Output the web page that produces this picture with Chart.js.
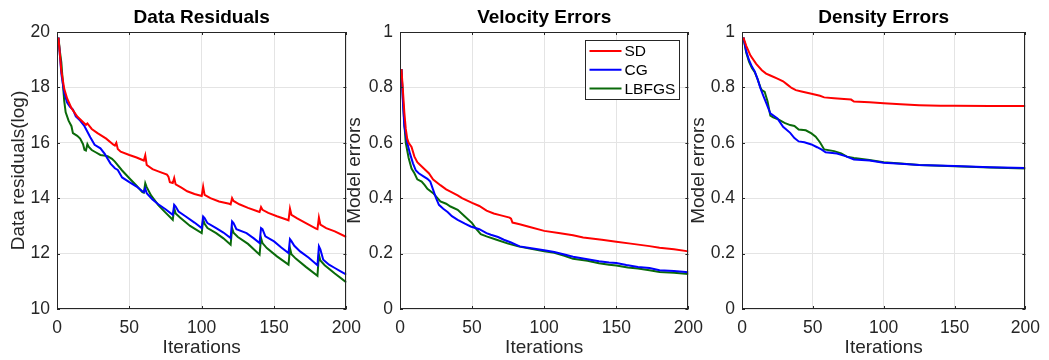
<!DOCTYPE html>
<html>
<head>
<meta charset="utf-8">
<script src="https://cdn.jsdelivr.net/npm/chart.js@4.4.1/dist/chart.umd.min.js"></script>
<style>
  html, body { margin: 0; padding: 0; background: #fff; overflow: hidden; }
  #wrap { position: relative; width: 1049px; height: 360px; }
  #wrap canvas { position: absolute; top: 0; }
</style>
</head>
<body>
<div id="wrap">
  <canvas id="resChart" width="370" height="360" style="left:0px"></canvas>
  <canvas id="velChart" width="370" height="360" style="left:342px"></canvas>
  <canvas id="denChart" width="363" height="360" style="left:686px"></canvas>
</div>
<script>
// iteration ticks and y ticks
const iterTicks = [0, 50, 100, 150, 200]
const resTicks = [10, 12, 14, 16, 18, 20]
const errTicks = [0, 0.2, 0.4, 0.6, 0.8, 1]
const methods = ["SD", "CG", "LBFGS"]

// data residuals (log), [iteration, value]
const resSD = [[1,19.8],[3,18.6],[5,17.95],[7,17.6],[10,17.25],[14,16.95],[19,16.7],[20,16.65],[21,16.7],[24,16.5],[28,16.35],[34,16.15],[39,15.93],[40,15.9],[41,16.0],[42,15.78],[44,15.68],[50,15.56],[55,15.47],[60,15.36],[61,15.55],[62,15.2],[66,15.05],[70,14.97],[76,14.85],[77,14.78],[78,14.58],[80,14.55],[81,14.73],[82,14.5],[86,14.38],[90,14.25],[95,14.15],[100,14.08],[101,14.42],[102,14.12],[106,14.0],[112,13.88],[119,13.8],[120,13.78],[121,14.0],[122,13.9],[126,13.78],[132,13.65],[139,13.52],[140,13.5],[141,13.68],[142,13.58],[146,13.47],[152,13.35],[159,13.22],[160,13.2],[161,13.62],[162,13.4],[166,13.27],[172,13.1],[179,12.9],[180,12.88],[181,13.3],[182,13.05],[186,12.92],[192,12.8],[200,12.6]]
const resCG = [[1,19.8],[3,18.5],[5,17.8],[7,17.45],[9,17.3],[11,17.2],[13,16.95],[16,16.8],[19,16.6],[21,16.4],[23,16.2],[26,15.93],[30,15.8],[33,15.6],[37,15.25],[40,15.08],[42,15.02],[45,14.75],[50,14.58],[55,14.42],[59,14.25],[60,14.22],[61,14.35],[62,14.18],[66,13.95],[70,13.78],[75,13.6],[80,13.4],[81,13.76],[82,13.7],[84,13.52],[89,13.34],[95,13.12],[100,12.92],[101,13.34],[102,13.28],[104,13.1],[110,12.92],[115,12.76],[120,12.56],[121,13.16],[122,13.1],[124,12.88],[131,12.74],[136,12.55],[140,12.38],[141,12.92],[142,12.88],[144,12.62],[150,12.44],[155,12.22],[160,12.02],[161,12.52],[162,12.45],[164,12.28],[168,12.08],[174,11.85],[180,11.58],[181,12.26],[182,12.15],[184,11.78],[188,11.6],[192,11.48],[196,11.36],[200,11.24]]
const resLBFGS = [[1,19.8],[2,19.3],[3,18.9],[4,18.2],[5,17.5],[6,17.1],[8,16.8],[10,16.6],[11,16.35],[14,16.25],[16,16.15],[18,15.95],[19,15.75],[20,15.72],[21,15.95],[22,15.85],[24,15.74],[27,15.65],[30,15.56],[35,15.52],[38,15.42],[40,15.32],[45,15.0],[50,14.72],[55,14.45],[59,14.22],[60,14.2],[61,14.54],[62,14.4],[65,14.1],[70,13.75],[75,13.48],[80,13.22],[81,13.64],[82,13.45],[85,13.3],[92,13.0],[100,12.74],[101,13.22],[102,13.08],[104,12.92],[110,12.74],[115,12.55],[120,12.32],[121,12.92],[122,12.75],[125,12.6],[132,12.35],[140,11.96],[141,12.56],[142,12.38],[145,12.2],[152,11.9],[160,11.6],[161,12.2],[162,11.98],[165,11.82],[172,11.52],[180,11.2],[181,11.96],[182,11.75],[185,11.58],[192,11.28],[200,10.96]]

// velocity model errors
const velSD = [[1,0.866],[2,0.79],[3,0.71],[4,0.65],[5,0.615],[6,0.6],[8,0.585],[10,0.55],[12,0.53],[14,0.52],[18,0.5],[20,0.49],[23,0.467],[28,0.447],[32,0.432],[35,0.424],[40,0.41],[43,0.4],[50,0.383],[55,0.372],[60,0.355],[65,0.345],[70,0.338],[76,0.33],[77,0.326],[78,0.312],[83,0.306],[90,0.296],[100,0.282],[110,0.274],[120,0.266],[127,0.258],[140,0.25],[150,0.243],[160,0.236],[173,0.227],[180,0.221],[190,0.216],[200,0.208]]
const velCG = [[1,0.866],[2,0.75],[3,0.66],[5,0.6],[7,0.56],[9,0.526],[11,0.5],[13,0.49],[16,0.48],[19,0.47],[21,0.46],[23,0.43],[25,0.4],[27,0.376],[30,0.362],[33,0.35],[36,0.335],[40,0.322],[45,0.308],[49,0.298],[55,0.288],[60,0.274],[63,0.268],[68,0.26],[72,0.25],[77,0.24],[83,0.226],[90,0.22],[100,0.212],[107,0.206],[114,0.197],[120,0.189],[130,0.18],[138,0.172],[145,0.168],[150,0.166],[157,0.159],[165,0.152],[173,0.148],[180,0.14],[190,0.137],[200,0.133]]
const velLBFGS = [[1,0.866],[2,0.76],[3,0.67],[4,0.6],[6,0.545],[8,0.507],[10,0.49],[12,0.468],[15,0.46],[17,0.448],[19,0.434],[23,0.418],[26,0.4],[28,0.388],[32,0.38],[35,0.37],[40,0.358],[45,0.334],[50,0.31],[53,0.288],[56,0.27],[60,0.262],[67,0.25],[75,0.236],[82,0.226],[90,0.218],[100,0.208],[107,0.203],[114,0.192],[120,0.181],[130,0.174],[138,0.165],[145,0.16],[150,0.157],[158,0.15],[165,0.146],[173,0.14],[180,0.134],[190,0.131],[200,0.126]]

// density model errors
const denSD = [[1,0.98],[3,0.95],[6,0.915],[10,0.885],[14,0.862],[17,0.85],[20,0.843],[25,0.832],[29,0.822],[32,0.81],[35,0.798],[38,0.79],[42,0.785],[49,0.777],[55,0.77],[58,0.764],[65,0.761],[72,0.758],[77,0.756],[79,0.749],[90,0.746],[100,0.743],[112,0.739],[125,0.736],[140,0.734],[150,0.734],[175,0.733],[200,0.733]]
const denCG = [[1,0.98],[3,0.93],[5,0.898],[7,0.875],[9,0.858],[11,0.83],[13,0.797],[15,0.77],[17,0.745],[20,0.706],[25,0.688],[29,0.658],[34,0.636],[37,0.617],[40,0.605],[44,0.602],[49,0.594],[53,0.584],[56,0.576],[59,0.566],[67,0.561],[73,0.552],[79,0.54],[90,0.536],[100,0.528],[112,0.524],[125,0.52],[150,0.516],[175,0.512],[200,0.509]]
const denLBFGS = [[1,0.98],[3,0.925],[5,0.892],[7,0.87],[9,0.855],[11,0.83],[13,0.8],[14,0.79],[16,0.784],[18,0.75],[20,0.698],[22,0.692],[25,0.686],[30,0.672],[34,0.664],[37,0.661],[40,0.648],[45,0.645],[49,0.634],[52,0.622],[55,0.602],[58,0.576],[65,0.57],[70,0.562],[74,0.55],[79,0.545],[90,0.538],[100,0.53],[112,0.525],[125,0.52],[150,0.515],[175,0.511],[200,0.507]]

const lineColors = ["#ff0000", "#0000ff", "#0a6a0a"]
const fontFamily = "'Liberation Sans', Arial, Helvetica, sans-serif"

Chart.defaults.font.family = fontFamily
Chart.defaults.color = "#262626"
Chart.defaults.animation = false

function toPoints(pairs) {
  return pairs.map(function(p) { return {x: p[0], y: p[1]} })
}

// boxed axes with inward ticks, bold title, optional boxed legend
const axesBox = {
  id: "axesBox",
  afterDraw(chart, args, opts) {
    const ctx = chart.ctx
    const a = chart.chartArea
    const xs = chart.scales.x, ys = chart.scales.y
    ctx.save()
    ctx.strokeStyle = "#262626"
    ctx.lineWidth = 1
    ctx.strokeRect(Math.round(a.left) + 0.5, Math.round(a.top) + 0.5, Math.round(a.width) - 1, Math.round(a.height) - 1)
    ctx.beginPath()
    xs.ticks.forEach(function(t) {
      const px = Math.round(xs.getPixelForValue(t.value)) + 0.5
      ctx.moveTo(px, a.top); ctx.lineTo(px, a.top + 3)
      ctx.moveTo(px, a.bottom); ctx.lineTo(px, a.bottom - 3)
    })
    ys.ticks.forEach(function(t) {
      const py = Math.round(ys.getPixelForValue(t.value)) + 0.5
      ctx.moveTo(a.left, py); ctx.lineTo(a.left + 3, py)
      ctx.moveTo(a.right, py); ctx.lineTo(a.right - 3, py)
    })
    ctx.stroke()

    ctx.fillStyle = "#000"
    ctx.font = "bold 19px " + fontFamily
    ctx.textAlign = "center"
    ctx.textBaseline = "middle"
    ctx.fillText(opts.title, (a.left + a.right) / 2, 18)

    if (opts.legend) {
      const w = 94, h = 59
      const lx = Math.round(a.right - 9 - w) + 0.5, ly = Math.round(a.top + 8) + 0.5
      ctx.fillStyle = "#fff"
      ctx.fillRect(lx, ly, w, h)
      ctx.strokeStyle = "#262626"
      ctx.strokeRect(lx, ly, w, h)
      ctx.font = "15.5px " + fontFamily
      ctx.textAlign = "left"
      chart.data.datasets.forEach(function(ds, i) {
        const ry = ly + 10.5 + i * 18.8
        ctx.strokeStyle = ds.borderColor
        ctx.lineWidth = 2
        ctx.beginPath()
        ctx.moveTo(lx + 4, ry); ctx.lineTo(lx + 36, ry)
        ctx.stroke()
        ctx.fillStyle = "#000"
        ctx.fillText(ds.label, lx + 39, ry + 1)
      })
    }
    ctx.restore()
  }
}

function makePanel(id, title, yLabel, series, yMin, yMax, yTicks, yWidth, yTitlePad, padRight, legend) {
  return new Chart(id, {
    type: "line",
    data: {
      datasets: series.map(function(s, i) {
        return {
          label: methods[i],
          data: toPoints(s),
          borderColor: lineColors[i],
          borderWidth: 2,
          pointRadius: 0,
          tension: 0,
          fill: false
        }
      })
    },
    options: {
      responsive: false,
      layout: { padding: { top: 32, right: padRight, bottom: 0, left: 0 } },
      plugins: {
        legend: { display: false },
        tooltip: { enabled: false },
        axesBox: { title: title, legend: legend }
      },
      scales: {
        x: {
          type: "linear",
          min: 0, max: 200,
          afterBuildTicks: function(s) { s.ticks = iterTicks.map(function(v) { return {value: v} }) },
          afterFit: function(s) { s.height = 51 },
          grid: { color: "#e4e4e4", drawTicks: false },
          border: { display: false },
          ticks: { font: { size: 17.5 }, padding: 9, maxRotation: 0, color: "#262626" },
          title: { display: true, text: "Iterations", font: { size: 19 }, color: "#262626", padding: { top: 0, bottom: 1 } }
        },
        y: {
          min: yMin, max: yMax,
          afterBuildTicks: function(s) { s.ticks = yTicks.map(function(v) { return {value: v} }) },
          afterFit: function(s) { s.width = yWidth },
          grid: { color: "#e4e4e4", drawTicks: false },
          border: { display: false },
          ticks: { font: { size: 17.5 }, padding: 7, color: "#262626", callback: function(v) { return String(v) } },
          title: { display: true, text: yLabel, font: { size: 19 }, color: "#262626", padding: { top: yTitlePad, bottom: 0 } }
        }
      }
    },
    plugins: [axesBox]
  })
}

makePanel("resChart", "Data Residuals", "Data residuals(log)", [resSD, resCG, resLBFGS], 10, 20, resTicks, 57, 7, 23, false)
makePanel("velChart", "Velocity Errors", "Model errors", [velSD, velCG, velLBFGS], 0, 1, errTicks, 58, 1, 23, true)
makePanel("denChart", "Density Errors", "Model errors", [denSD, denCG, denLBFGS], 0, 1, errTicks, 56, 1, 17, false)
</script>
</body>
</html>
